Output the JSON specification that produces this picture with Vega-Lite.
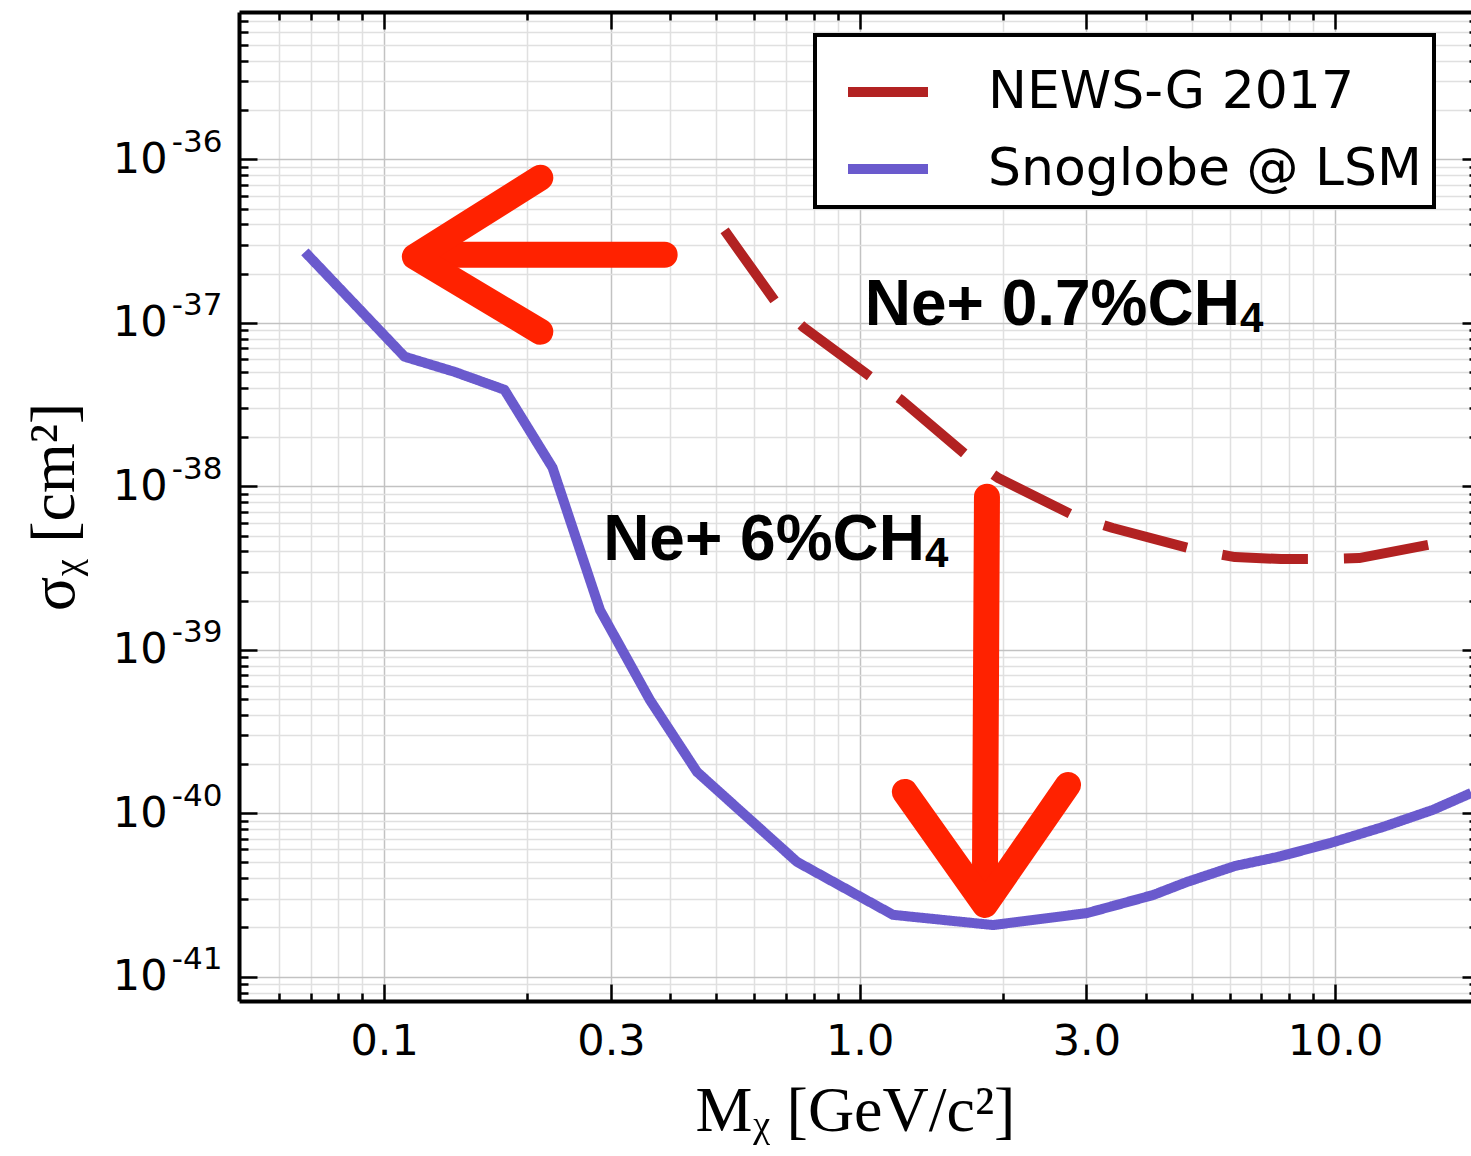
{
  "$schema": "https://vega.github.io/schema/vega-lite/v6.json",
  "width": 1232,
  "height": 989,
  "autosize": "none",
  "padding": {"left": 239, "top": 12, "right": 0, "bottom": 155},
  "background": "white",
  "config": {
    "view": {"stroke": null},
    "font": "DejaVu Sans",
    "axis": {"labelColor": "black", "titleColor": "black", "labelOverlap": false, "labelFlush": false}
  },
  "datasets": {
    "curves": [
      {"series": "NEWS-G 2017", "m": 0.520, "sigma": 3.68e-37},
      {"series": "NEWS-G 2017", "m": 0.666, "sigma": 1.34e-37},
      {"series": "NEWS-G 2017", "m": 0.762, "sigma": 9.40e-38},
      {"series": "NEWS-G 2017", "m": 1.065, "sigma": 4.58e-38},
      {"series": "NEWS-G 2017", "m": 1.226, "sigma": 3.36e-38},
      {"series": "NEWS-G 2017", "m": 1.704, "sigma": 1.49e-38},
      {"series": "NEWS-G 2017", "m": 1.962, "sigma": 1.12e-38},
      {"series": "NEWS-G 2017", "m": 2.862, "sigma": 6.49e-39},
      {"series": "NEWS-G 2017", "m": 3.409, "sigma": 5.56e-39},
      {"series": "NEWS-G 2017", "m": 5.098, "sigma": 4.08e-39},
      {"series": "NEWS-G 2017", "m": 6.16, "sigma": 3.69e-39},
      {"series": "NEWS-G 2017", "m": 7.70, "sigma": 3.59e-39},
      {"series": "NEWS-G 2017", "m": 9.30, "sigma": 3.59e-39},
      {"series": "NEWS-G 2017", "m": 11.23, "sigma": 3.64e-39},
      {"series": "NEWS-G 2017", "m": 15.70, "sigma": 4.38e-39},
      {"series": "Snoglobe @ LSM", "m": 0.0681, "sigma": 2.72e-37},
      {"series": "Snoglobe @ LSM", "m": 0.1104, "sigma": 6.21e-38},
      {"series": "Snoglobe @ LSM", "m": 0.1405, "sigma": 5.02e-38},
      {"series": "Snoglobe @ LSM", "m": 0.179, "sigma": 3.90e-38},
      {"series": "Snoglobe @ LSM", "m": 0.226, "sigma": 1.30e-38},
      {"series": "Snoglobe @ LSM", "m": 0.2844, "sigma": 1.75e-39},
      {"series": "Snoglobe @ LSM", "m": 0.3622, "sigma": 4.93e-40},
      {"series": "Snoglobe @ LSM", "m": 0.455, "sigma": 1.79e-40},
      {"series": "Snoglobe @ LSM", "m": 0.7385, "sigma": 5.04e-41},
      {"series": "Snoglobe @ LSM", "m": 1.176, "sigma": 2.39e-41},
      {"series": "Snoglobe @ LSM", "m": 1.909, "sigma": 2.07e-41},
      {"series": "Snoglobe @ LSM", "m": 3.009, "sigma": 2.45e-41},
      {"series": "Snoglobe @ LSM", "m": 4.143, "sigma": 3.16e-41},
      {"series": "Snoglobe @ LSM", "m": 4.885, "sigma": 3.8e-41},
      {"series": "Snoglobe @ LSM", "m": 6.165, "sigma": 4.76e-41},
      {"series": "Snoglobe @ LSM", "m": 7.593, "sigma": 5.41e-41},
      {"series": "Snoglobe @ LSM", "m": 9.81, "sigma": 6.59e-41},
      {"series": "Snoglobe @ LSM", "m": 12.63, "sigma": 8.25e-41},
      {"series": "Snoglobe @ LSM", "m": 16.08, "sigma": 1.05e-40},
      {"series": "Snoglobe @ LSM", "m": 19.34, "sigma": 1.33e-40}
    ],
    "arrows": [
      {"part": "left shaft", "i": 0, "m": 0.389, "sigma": 2.61e-37},
      {"part": "left shaft", "i": 1, "m": 0.1374, "sigma": 2.61e-37},
      {"part": "left head", "i": 0, "m": 0.213, "sigma": 7.73e-37},
      {"part": "left head", "i": 1, "m": 0.116, "sigma": 2.54e-37},
      {"part": "left head", "i": 2, "m": 0.213, "sigma": 8.83e-38},
      {"part": "down shaft", "i": 0, "m": 1.853, "sigma": 8.63e-39},
      {"part": "down shaft", "i": 1, "m": 1.835, "sigma": 3.91e-41},
      {"part": "down head", "i": 0, "m": 1.245, "sigma": 1.35e-40},
      {"part": "down head", "i": 1, "m": 1.835, "sigma": 2.75e-41},
      {"part": "down head", "i": 2, "m": 2.744, "sigma": 1.49e-40}
    ],
    "notes": [
      {"main": "Ne+ 0.7%CH", "sub": "4", "m": 6.31, "sigma": 9.73e-38},
      {"main": "Ne+ 6%CH", "sub": "4", "m": 1.373, "sigma": 3.55e-39}
    ]
  },
  "resolve": {"axis": {"x": "independent", "y": "independent"}},
  "layer": [
    {
      "data": {"name": "curves"},
      "mark": {"type": "line", "strokeWidth": 10, "strokeCap": "butt", "strokeJoin": "round"},
      "encoding": {
        "x": {
          "field": "m", "type": "quantitative",
          "scale": {"type": "log", "domain": [0.0495, 19.32], "nice": false},
          "axis": {
            "orient": "bottom",
            "values": [0.06,0.07,0.08,0.09,0.1,0.2,0.3,0.4,0.5,0.6,0.7,0.8,0.9,1,2,3,4,5,6,7,8,9,10],
            "labels": false, "title": null,
            "grid": true,
            "gridColor": {"condition": {"test": "indexof([0.1,0.3,1,3,10], datum.value) >= 0", "value": "#c2c2c2"}, "value": "#e0e0e0"},
            "gridWidth": 1.5,
            "ticks": true, "tickColor": "black", "tickWidth": 2.5,
            "tickSize": {"condition": {"test": "indexof([0.1,0.3,1,3,10], datum.value) >= 0", "value": -17}, "value": -8},
            "domain": true, "domainColor": "black", "domainWidth": 4
          }
        },
        "y": {
          "field": "sigma", "type": "quantitative",
          "scale": {"type": "log", "domain": [7.1e-42, 7.98e-36], "nice": false},
          "axis": {
            "orient": "left",
            "values": [8e-42,9e-42,1e-41,2e-41,3e-41,4e-41,5e-41,6e-41,7e-41,8e-41,9e-41,1e-40,2e-40,3e-40,4e-40,5e-40,6e-40,7e-40,8e-40,9e-40,1e-39,2e-39,3e-39,4e-39,5e-39,6e-39,7e-39,8e-39,9e-39,1e-38,2e-38,3e-38,4e-38,5e-38,6e-38,7e-38,8e-38,9e-38,1e-37,2e-37,3e-37,4e-37,5e-37,6e-37,7e-37,8e-37,9e-37,1e-36,2e-36,3e-36,4e-36,5e-36,6e-36,7e-36],
            "labels": false, "title": null,
            "grid": true,
            "gridColor": {"condition": {"test": "abs(log(datum.value)/LN10 - round(log(datum.value)/LN10)) < 0.001", "value": "#c2c2c2"}, "value": "#e0e0e0"},
            "gridWidth": 1.5,
            "ticks": true, "tickColor": "black", "tickWidth": 2.5,
            "tickSize": {"condition": {"test": "abs(log(datum.value)/LN10 - round(log(datum.value)/LN10)) < 0.001", "value": -18}, "value": -9},
            "domain": true, "domainColor": "black", "domainWidth": 4
          }
        },
        "color": {
          "field": "series", "type": "nominal",
          "scale": {"domain": ["NEWS-G 2017", "Snoglobe @ LSM"], "range": ["#b22222", "#6a5acd"]},
          "legend": {
            "title": null,
            "orient": "none", "legendX": 576, "legendY": 23,
            "symbolType": "stroke", "symbolSize": 6400, "symbolStrokeWidth": 10, "symbolOffset": 16,
            "labelFont": "DejaVu Sans", "labelFontSize": 52, "labelColor": "black", "labelLimit": 0,
            "labelOffset": 55, "rowPadding": 6, "padding": 12,
            "strokeColor": "black", "fillColor": "white",
            "encode": {"legend": {"update": {"strokeWidth": {"value": 4}}}}
          }
        },
        "strokeDash": {
          "field": "series", "type": "nominal",
          "scale": {"domain": ["NEWS-G 2017", "Snoglobe @ LSM"], "range": [[86, 36], [1, 0]]},
          "legend": null
        }
      }
    },
    {
      "data": {"name": "arrows"},
      "mark": {"type": "line", "color": "#ff2200", "strokeWidth": 26, "strokeCap": "round", "strokeJoin": "round"},
      "encoding": {
        "x": {
          "field": "m", "type": "quantitative",
          "scale": {"type": "log", "domain": [0.0495, 19.32], "nice": false},
          "axis": {
            "orient": "bottom",
            "values": [0.1, 0.3, 1, 3, 10],
            "labelExpr": "format(datum.value, '.1f')",
            "labelFont": "DejaVu Sans", "labelFontSize": 43, "labelPadding": 19,
            "ticks": false, "domain": false, "grid": false,
            "title": "Mᵪ [GeV/c²]",
            "titleFont": "Liberation Serif", "titleFontSize": 64, "titleFontWeight": "normal", "titlePadding": 16
          }
        },
        "y": {
          "field": "sigma", "type": "quantitative",
          "scale": {"type": "log", "domain": [7.1e-42, 7.98e-36], "nice": false},
          "axis": {
            "orient": "left",
            "values": [1e-41, 1e-40, 1e-39, 1e-38, 1e-37, 1e-36],
            "labelExpr": "'10'",
            "labelFont": "DejaVu Sans", "labelFontSize": 43, "labelAlign": "right", "labelBaseline": "middle", "labelPadding": 72,
            "ticks": false, "domain": false, "grid": false,
            "title": "σᵪ [cm²]",
            "titleFont": "Liberation Serif", "titleFontSize": 64, "titleFontWeight": "normal", "titlePadding": 26
          }
        },
        "detail": {"field": "part", "type": "nominal"},
        "order": {"field": "i", "type": "quantitative"}
      }
    },
    {
      "data": {"name": "notes"},
      "mark": {"type": "text", "font": "Liberation Sans", "fontWeight": "bold", "fontSize": 64, "align": "right", "baseline": "alphabetic", "color": "black"},
      "encoding": {
        "x": {
          "field": "m", "type": "quantitative",
          "scale": {"type": "log", "domain": [0.0495, 19.32], "nice": false},
          "axis": {
            "orient": "top",
            "values": [0.06,0.07,0.08,0.09,0.1,0.2,0.3,0.4,0.5,0.6,0.7,0.8,0.9,1,2,3,4,5,6,7,8,9,10],
            "labels": false, "title": null, "grid": false,
            "ticks": true, "tickColor": "black", "tickWidth": 2.5,
            "tickSize": {"condition": {"test": "indexof([0.1,0.3,1,3,10], datum.value) >= 0", "value": -17}, "value": -8},
            "domain": true, "domainColor": "black", "domainWidth": 4
          }
        },
        "y": {
          "field": "sigma", "type": "quantitative",
          "scale": {"type": "log", "domain": [7.1e-42, 7.98e-36], "nice": false},
          "axis": {
            "orient": "left",
            "values": [1e-41, 1e-40, 1e-39, 1e-38, 1e-37, 1e-36],
            "labelExpr": "'-' + round(-log(datum.value)/LN10)",
            "labelFont": "DejaVu Sans", "labelFontSize": 31, "labelAlign": "right", "labelBaseline": "middle",
            "labelPadding": 17, "labelOffset": -17,
            "ticks": false, "domain": false, "grid": false, "title": null
          }
        },
        "text": {"field": "main", "type": "nominal"}
      }
    },
    {
      "data": {"name": "notes"},
      "mark": {"type": "text", "font": "Liberation Sans", "fontWeight": "bold", "fontSize": 42, "align": "left", "baseline": "alphabetic", "dy": 7, "color": "black"},
      "encoding": {
        "x": {
          "field": "m", "type": "quantitative",
          "scale": {"type": "log", "domain": [0.0495, 19.32], "nice": false},
          "axis": null
        },
        "y": {
          "field": "sigma", "type": "quantitative",
          "scale": {"type": "log", "domain": [7.1e-42, 7.98e-36], "nice": false},
          "axis": {
            "orient": "right",
            "values": [8e-42,9e-42,1e-41,2e-41,3e-41,4e-41,5e-41,6e-41,7e-41,8e-41,9e-41,1e-40,2e-40,3e-40,4e-40,5e-40,6e-40,7e-40,8e-40,9e-40,1e-39,2e-39,3e-39,4e-39,5e-39,6e-39,7e-39,8e-39,9e-39,1e-38,2e-38,3e-38,4e-38,5e-38,6e-38,7e-38,8e-38,9e-38,1e-37,2e-37,3e-37,4e-37,5e-37,6e-37,7e-37,8e-37,9e-37,1e-36,2e-36,3e-36,4e-36,5e-36,6e-36,7e-36],
            "labels": false, "title": null, "grid": false, "domain": false,
            "ticks": true, "tickColor": "black", "tickWidth": 2.5,
            "tickSize": {"condition": {"test": "abs(log(datum.value)/LN10 - round(log(datum.value)/LN10)) < 0.001", "value": -9}, "value": -2}
          }
        },
        "text": {"field": "sub", "type": "nominal"}
      }
    }
  ]
}
